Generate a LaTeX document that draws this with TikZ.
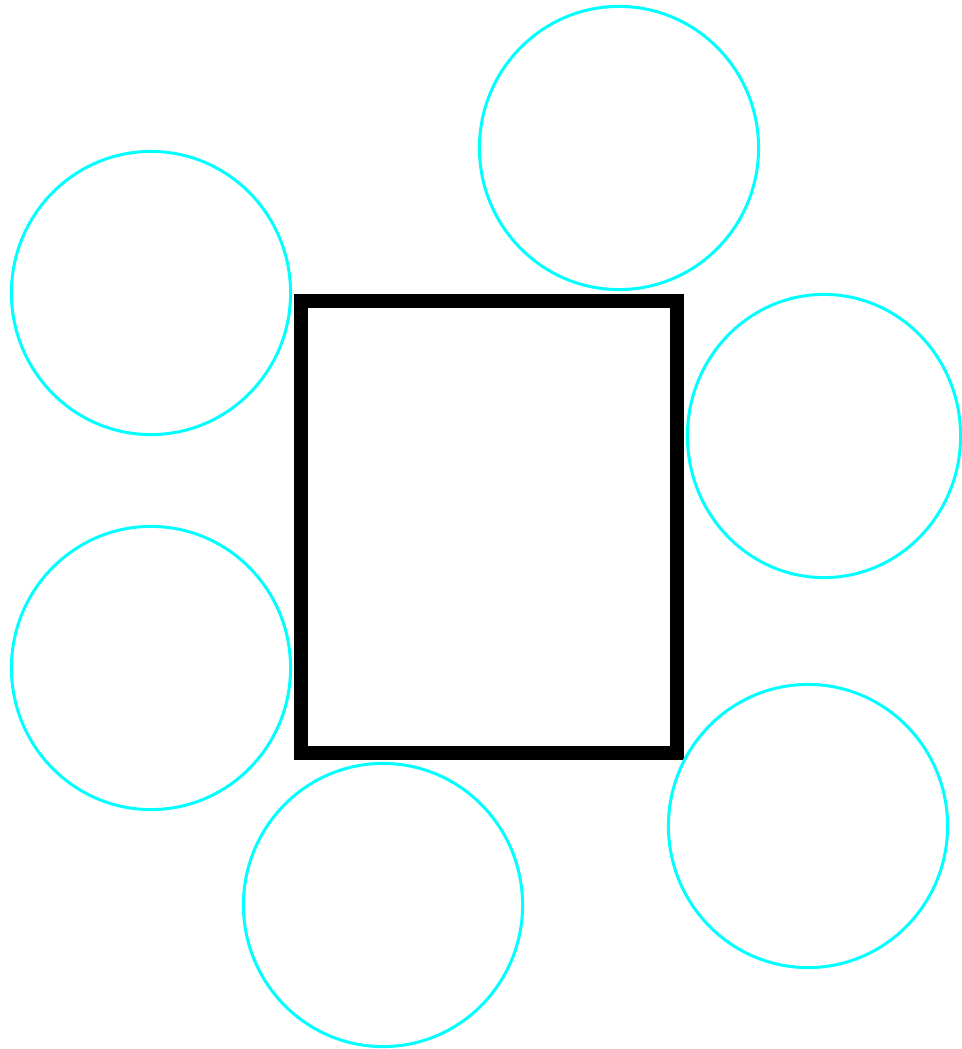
\documentclass[tikz,border=0pt]{standalone}
\usepackage{xcolor}
\usepackage{tikz}
\usetikzlibrary{shapes.geometric}
\definecolor{ringcyan}{RGB}{0,255,255}

\begin{document}
\begin{tikzpicture}[x=0.01cm, y=-0.01cm,
  ring/.style={ellipse, draw=ringcyan, line width=0.85pt, minimum width=2.79cm, minimum height=2.83cm, inner sep=0pt}]
\useasboundingbox (0,0) rectangle (961,1049);
% central frame
\draw[line width=3.8pt] (301,301) rectangle (677,753);
% rings around the frame
\foreach \cx/\cy/\nm in {619/148/top, 151/293/leftup, 151/668/leftlow, 383/905/bottom, 808/826/rightlow} {
  \node[ring] (\nm) at (\cx,\cy) {};
}
\node[ring, minimum width=2.73cm] (right) at (824,436) {};
\end{tikzpicture}
\end{document}
